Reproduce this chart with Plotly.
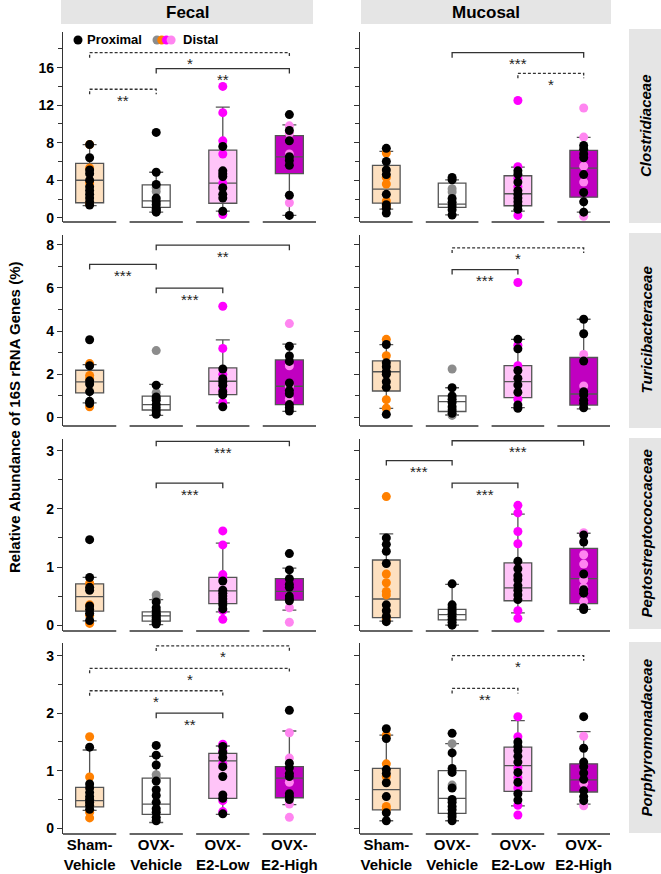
import plotly.graph_objects as go

W, H = 661, 874

groups = ["Sham-Vehicle", "OVX-Vehicle", "OVX-E2-Low", "OVX-E2-High"]
group_ticktext = ["Sham-<br>Vehicle", "OVX-<br>Vehicle", "OVX-<br>E2-Low", "OVX-<br>E2-High"]
sites = ["Fecal", "Mucosal"]
families = ["Clostridiaceae", "Turicibacteraceae", "Peptostreptococcaceae", "Porphyromonadaceae"]

# box statistics per group: [lower whisker, q1, median, q3, upper whisker]
clos_fecal_box = [[1.3, 1.6, 4.0, 5.8, 7.8], [0.6, 1.1, 1.8, 3.5, 4.85], [0.7, 1.55, 3.7, 7.2, 11.8], [0.25, 4.7, 6.5, 8.75, 9.9]]
clos_fecal_prox = [[7.8, 6.4, 5.1, 4.7, 4.0, 3.3, 2.9, 2.5, 2.1, 1.7, 1.35], [9.1, 4.85, 3.55, 2.1, 1.7, 1.4, 1.0, 0.6, 0.8],
                   [7.6, 5.0, 4.7, 4.4, 3.2, 2.5, 2.1, 0.7], [11.0, 9.3, 8.2, 6.5, 6.1, 5.6, 2.4, 0.25]]
clos_fecal_dist = [[7.8, 5.3, 3.7, 1.5], [3.2, 2.8, 1.9], [14.0, 11.2, 8.2, 6.8, 3.7, 0.35], [9.8, 9.0, 6.8, 1.6]]
clos_fecal_sig = [(0, 3, 17.6, "*", True), (1, 3, 15.9, "**", False), (0, 1, 13.7, "**", True)]

clos_muc_box = [[0.92, 1.56, 3.06, 5.58, 7.08], [0.3, 1.1, 1.46, 3.7, 4.05], [0.7, 1.28, 2.56, 4.48, 5.4], [0.6, 2.2, 5.3, 7.18, 8.57]]
clos_muc_prox = [[7.4, 6.0, 5.1, 4.6, 2.5, 1.4, 1.0, 0.5], [4.3, 4.05, 2.05, 1.65, 1.25, 0.85, 0.3],
                 [5.0, 4.65, 3.8, 2.9, 2.5, 2.1, 1.7, 1.3, 0.9], [7.7, 7.3, 6.8, 6.4, 4.6, 2.7, 1.7, 0.6]]
clos_muc_dist = [[6.9, 4.3, 3.6, 1.8, 1.2], [3.1, 2.75], [12.5, 5.45, 4.2, 3.3, 0.25], [11.7, 8.6, 5.5, 3.8, 0.15]]
clos_muc_sig = [(1, 3, 17.6, "***", False), (2, 3, 15.4, "*", True)]

turi_fecal_box = [[0.68, 1.14, 1.65, 2.19, 2.45], [0.1, 0.35, 0.6, 0.99, 1.54], [0.68, 1.06, 1.68, 2.3, 3.6], [0.29, 0.6, 1.45, 2.67, 3.4]]
turi_fecal_prox = [[3.6, 2.4, 1.7, 1.55, 1.2, 0.75, 0.65], [1.5, 0.95, 0.8, 0.6, 0.45, 0.3, 0.15],
                   [2.25, 1.8, 1.65, 1.5, 1.2, 1.05, 0.5], [3.3, 2.85, 2.6, 1.6, 1.25, 1.1, 0.6, 0.45, 0.3]]
turi_fecal_dist = [[2.5, 1.95, 1.8, 0.5], [3.1, 1.15, 0.9], [5.15, 3.2, 2.0, 1.3, 0.7], [4.35, 2.4, 1.45, 0.85]]
turi_fecal_sig = [(0, 1, 7.09, "***", False), (1, 3, 7.98, "**", False), (1, 2, 5.99, "***", False)]

turi_muc_box = [[0.43, 1.23, 2.12, 2.62, 3.38], [0.12, 0.28, 0.74, 1.0, 1.38], [0.46, 0.92, 1.66, 2.4, 3.62], [0.4, 0.58, 1.09, 2.78, 4.55]]
turi_muc_prox = [[3.38, 2.54, 2.35, 2.12, 2.0, 1.66, 1.4, 0.15], [1.38, 1.0, 0.85, 0.7, 0.5, 0.35, 0.2],
                 [3.62, 3.18, 2.18, 1.82, 1.51, 1.17, 0.58, 0.43], [4.55, 3.88, 2.62, 1.2, 1.05, 0.8, 0.65, 0.45]]
turi_muc_dist = [[3.62, 2.86, 0.83, 0.43], [2.25, 0.1], [6.25, 3.35, 2.4, 0.85], [2.92, 1.46]]
turi_muc_sig = [(1, 3, 7.85, "*", True), (1, 2, 6.85, "***", False)]

pept_fecal_box = [[0.075, 0.24, 0.49, 0.71, 0.82], [0.01, 0.07, 0.16, 0.23, 0.44], [0.23, 0.37, 0.59, 0.82, 1.41], [0.26, 0.43, 0.58, 0.8, 0.98]]
pept_fecal_prox = [[1.47, 0.82, 0.65, 0.6, 0.33, 0.27, 0.2, 0.08], [0.4, 0.3, 0.25, 0.2, 0.17, 0.13, 0.1, 0.07, 0.04, 0.02],
                   [0.76, 0.6, 0.55, 0.5, 0.45, 0.4, 0.35, 0.28], [1.23, 0.95, 0.8, 0.7, 0.65, 0.5, 0.45, 0.42]]
pept_fecal_dist = [[0.72, 0.35, 0.17, 0.03], [0.52, 0.45], [1.62, 1.38, 0.87, 0.82, 0.25, 0.1], [0.5, 0.3, 0.05]]
pept_fecal_sig = [(1, 3, 3.16, "***", False), (1, 2, 2.44, "***", False)]

pept_muc_box = [[0.07, 0.13, 0.45, 1.12, 1.57], [0.0, 0.09, 0.18, 0.27, 0.7], [0.21, 0.42, 0.64, 1.07, 1.91], [0.27, 0.37, 0.8, 1.32, 1.58]]
pept_muc_prox = [[1.5, 1.39, 1.27, 1.06, 0.35, 0.25, 0.15, 0.06], [0.71, 0.35, 0.3, 0.25, 0.2, 0.15, 0.1, 0.05, 0.0],
                 [1.1, 0.97, 0.85, 0.78, 0.68, 0.6, 0.52, 0.44], [1.55, 1.43, 0.88, 0.61, 0.55, 0.3, 0.27]]
pept_muc_dist = [[2.21, 0.88, 0.73, 0.58, 0.52, 0.1], [], [2.06, 1.93, 1.61, 1.4, 0.25, 0.12], [1.59, 1.21, 1.05, 0.78, 0.65, 0.41]]
pept_muc_sig = [(0, 1, 2.83, "***", False), (1, 2, 2.44, "***", False), (1, 3, 3.17, "***", False)]

porp_fecal_box = [[0.31, 0.37, 0.48, 0.71, 1.36], [0.1, 0.24, 0.42, 0.87, 1.25], [0.24, 0.52, 1.17, 1.3, 1.43], [0.41, 0.53, 0.87, 1.07, 1.69]]
porp_fecal_prox = [[1.41, 0.77, 0.7, 0.62, 0.55, 0.5, 0.45, 0.4, 0.33], [1.44, 1.27, 1.1, 0.82, 0.67, 0.57, 0.45, 0.34, 0.28, 0.19, 0.13],
                   [1.42, 1.32, 1.23, 1.07, 0.9, 0.58, 0.52, 0.25], [2.05, 1.13, 1.05, 0.95, 0.9, 0.6, 0.55, 0.5]]
porp_fecal_dist = [[1.59, 0.89, 0.28, 0.18], [0.93, 0.87], [1.46, 1.35, 1.12, 0.48, 0.29], [1.66, 1.22, 0.8, 0.42, 0.19]]
porp_fecal_sig = [(1, 3, 3.17, "*", True), (0, 3, 2.78, "*", True), (0, 2, 2.39, "*", True), (1, 2, 2.0, "**", False)]

porp_muc_box = [[0.13, 0.32, 0.67, 1.04, 1.62], [0.13, 0.26, 0.52, 1.0, 1.47], [0.39, 0.64, 1.09, 1.41, 1.87], [0.42, 0.63, 0.84, 1.12, 1.68]]
porp_muc_prox = [[1.73, 1.56, 1.02, 0.95, 0.79, 0.55, 0.27, 0.13], [1.65, 1.31, 1.04, 0.97, 0.7, 0.5, 0.45, 0.38, 0.32, 0.25, 0.2, 0.13],
                 [1.5, 1.42, 1.35, 1.25, 1.15, 0.97, 0.8, 0.6, 0.49], [1.94, 1.39, 1.15, 1.07, 0.96, 0.85, 0.65, 0.55, 0.48]]
porp_muc_dist = [[1.62, 1.12, 0.9, 0.38, 0.33], [1.47, 0.75], [1.94, 1.59, 1.05, 0.88, 0.7, 0.4, 0.23], [1.6, 0.78, 0.39]]
porp_muc_sig = [(1, 3, 3.0, "*", True), (1, 2, 2.43, "**", True)]

# y axis settings per row: range, major dtick, minor dtick
row_yrange = [[-0.45, 19.8], [-0.39, 8.45], [-0.1, 3.2], [-0.1, 3.22]]
row_dtick = [4, 2, 1, 1]
row_minor = [2, 1, 0.5, 0.5]

box_fill = ["#FDE0C0", "#FFFFFF", "#FFC4F8", "#C000C0"]
dist_color = ["#FF8000", "#8C8C8C", "#FF00FF", "#FF85F0"]

panels = {
    (0, 0): (clos_fecal_box, clos_fecal_prox, clos_fecal_dist, clos_fecal_sig),
    (0, 1): (clos_muc_box, clos_muc_prox, clos_muc_dist, clos_muc_sig),
    (1, 0): (turi_fecal_box, turi_fecal_prox, turi_fecal_dist, turi_fecal_sig),
    (1, 1): (turi_muc_box, turi_muc_prox, turi_muc_dist, turi_muc_sig),
    (2, 0): (pept_fecal_box, pept_fecal_prox, pept_fecal_dist, pept_fecal_sig),
    (2, 1): (pept_muc_box, pept_muc_prox, pept_muc_dist, pept_muc_sig),
    (3, 0): (porp_fecal_box, porp_fecal_prox, porp_fecal_dist, porp_fecal_sig),
    (3, 1): (porp_muc_box, porp_muc_prox, porp_muc_dist, porp_muc_sig),
}

# layout geometry in pixels
col_px = [(63, 316), (360, 610)]
row_px = [(32, 222), (235, 426), (439, 631), (643, 834)]
XR = [-0.4, 3.4]
AX = "#333333"

fig = go.Figure()
layout = dict(template="none", width=W, height=H, margin=dict(l=0, r=0, t=0, b=0, autoexpand=False),
              paper_bgcolor="white", plot_bgcolor="white", showlegend=False,
              font=dict(family="Liberation Sans, Arial, sans-serif", color="black"))
shapes = []
annotations = []


def note(px, py, text, size, angle=0, xanchor="center", style="normal"):
    return dict(x=px / W, y=1 - py / H, xref="paper", yref="paper", text=text, showarrow=False,
                xanchor=xanchor, yanchor="middle", textangle=angle,
                font=dict(size=size, weight="bold", style=style, color="black"))


for (r, c), (bstats, prox, dist, sig) in panels.items():
    n = r * 2 + c + 1
    sfx = "" if n == 1 else str(n)
    xa, ya = "x" + sfx, "y" + sfx
    xk, yk = "xaxis" + sfx, "yaxis" + sfx
    x0p, x1p = col_px[c]
    y0p, y1p = row_px[r]
    layout[xk] = dict(domain=[x0p / W, x1p / W], range=XR, anchor=ya, showgrid=False, zeroline=False,
                      showline=False, ticks="", tickvals=[0, 1, 2, 3], automargin=False,
                      ticktext=group_ticktext, showticklabels=(r == 3),
                      tickfont=dict(size=15, weight="bold", color="black"))
    layout[yk] = dict(domain=[1 - y1p / H, 1 - y0p / H], range=row_yrange[r], anchor=xa, automargin=False,
                      showgrid=False, zeroline=False, showline=True, linecolor=AX, linewidth=1.3,
                      ticks="outside", ticklen=5, tickcolor=AX, tickwidth=1.2,
                      tick0=0, dtick=row_dtick[r], showticklabels=(c == 0),
                      tickfont=dict(size=14, weight="bold", color="black"),
                      minor=dict(dtick=row_minor[r], tick0=0, ticks="outside", ticklen=4, tickcolor=AX))
    # boxes
    for i, st in enumerate(bstats):
        fig.add_trace(go.Box(x=[i], lowerfence=[st[0]], q1=[st[1]], median=[st[2]], q3=[st[3]],
                             upperfence=[st[4]], width=0.42, whiskerwidth=0.5,
                             fillcolor=box_fill[i], line=dict(color="#555555", width=1.3),
                             boxpoints=False, hoverinfo="skip", xaxis=xa, yaxis=ya))
    # points: distal first, proximal on top
    for i in range(4):
        if dist[i]:
            fig.add_trace(go.Scatter(x=[i] * len(dist[i]), y=dist[i], mode="markers",
                                     marker=dict(size=9, color=dist_color[i], line=dict(width=0)),
                                     hoverinfo="skip", xaxis=xa, yaxis=ya))
        fig.add_trace(go.Scatter(x=[i] * len(prox[i]), y=prox[i], mode="markers",
                                 marker=dict(size=9, color="black", line=dict(width=0)),
                                 hoverinfo="skip", xaxis=xa, yaxis=ya))
    # broken x axis segments
    for i in range(4):
        shapes.append(dict(type="line", xref=xa, yref=f"{ya} domain", x0=i - 0.4, x1=i + 0.4,
                           y0=0, y1=0, line=dict(color=AX, width=1.5)))
    # significance brackets
    ppu = (y1p - y0p) / (row_yrange[r][1] - row_yrange[r][0])
    d = 5 / ppu
    for (i, j, yv, lab, dashed) in sig:
        shapes.append(dict(type="path", xref=xa, yref=ya,
                           path=f"M {i},{yv - d} L {i},{yv} L {j},{yv} L {j},{yv - d}",
                           line=dict(color=AX, width=1.3, dash="3px,2px" if dashed else "solid")))
        annotations.append(dict(x=(i + j) / 2, y=yv, xref=xa, yref=ya, text=lab, showarrow=False,
                                xanchor="center", yanchor="middle", yshift=-11,
                                font=dict(size=15, color="#222222")))

# strip headers (top)
strip_top = [(61, 313), (361, 611)]
for c, (a, b) in enumerate(strip_top):
    shapes.append(dict(type="rect", xref="paper", yref="paper", x0=a / W, x1=b / W,
                       y0=1 - 24 / H, y1=1, fillcolor="#E5E5E5", line=dict(width=0), layer="below"))
    annotations.append(note((a + b) / 2, 12.5, sites[c], 17))
# strip headers (right)
strip_right = [(29, 223), (233, 428), (438, 629), (642, 833)]
for r, (a, b) in enumerate(strip_right):
    shapes.append(dict(type="rect", xref="paper", yref="paper", x0=629 / W, x1=1,
                       y0=1 - b / H, y1=1 - a / H, fillcolor="#E5E5E5", line=dict(width=0), layer="below"))
    annotations.append(note(646, (a + b) / 2, families[r], 15, angle=-90, style="italic"))

# y axis title
annotations.append(note(14, 418, "Relative Abundance of 16S rRNA Genes (%)", 15, angle=-90))

# legend
def dot(px, py, color):
    return dict(type="circle", xref="paper", yref="paper", xsizemode="pixel", ysizemode="pixel",
                xanchor=px / W, yanchor=1 - py / H, x0=-4.5, x1=4.5, y0=-4.5, y1=4.5,
                fillcolor=color, line=dict(width=0))

shapes.append(dot(78, 40, "black"))
for k, col in enumerate(["#8C8C8C", "#FF8000", "#FF00FF", "#FF85F0"]):
    shapes.append(dot(157 + 4.7 * k, 40, col))
annotations.append(note(85, 40, "Proximal", 13, xanchor="left"))
annotations.append(note(181, 40, "Distal", 13, xanchor="left"))

layout["shapes"] = shapes
layout["annotations"] = annotations
fig.update_layout(**layout)
fig.write_html("out.html", config={"displayModeBar": False},
               post_script="document.body.style.margin='0';")
